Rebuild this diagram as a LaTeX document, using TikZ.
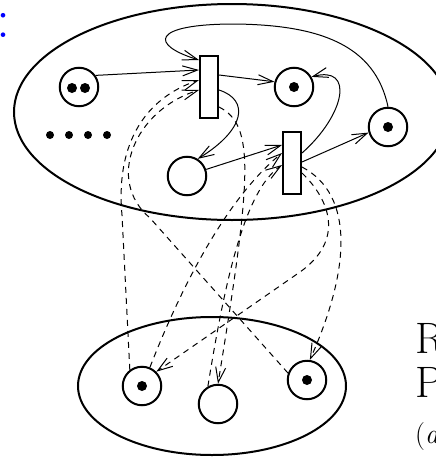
\documentclass[tikz,border=0pt]{standalone}
\usetikzlibrary{arrows.meta}
\begin{document}
\begin{tikzpicture}[x=1pt,y=-1pt,
  place/.style={circle,draw,line width=2pt,minimum size=38.5pt,inner sep=0pt},
  trans/.style={rectangle,draw,line width=2pt,minimum width=18pt,minimum height=62pt,inner sep=0pt},
  token/.style={circle,fill,inner sep=0pt,minimum size=10pt},
  region/.style={draw,line width=2pt},
  arc/.style={line width=1pt,-{Straight Barb[length=15pt,width=10pt,line width=1pt]}},
  darc/.style={arc,dash pattern=on 6pt off 5pt},
  big/.style={inner sep=0pt,anchor=base west,font=\fontsize{44}{44}\selectfont},
]
\useasboundingbox (0,0) rectangle (436,458);
\clip (0,0) rectangle (436,458);

% two regions
\draw[region] (232,112) ellipse [x radius=218pt, y radius=108pt];
\draw[region] (212,386) ellipse [x radius=134pt, y radius=69pt];

% upper net
\node[place] (p1) at (79,87) {};
\node[token] (p1a) at (72,88) {};
\node[token] (p1b) at (85,88) {};
\node[trans] (t1) at (209,87) {};
\node[place] (p2) at (294,87) {};
\node[token] (p2a) at (294,87) {};
\node[place] (p3) at (388,127) {};
\node[token] (p3a) at (388,127) {};
\node[trans] (t2) at (292,163) {};
\node[place] (p4) at (187,176) {};
\foreach \i/\x in {1/50,2/69,3/88,4/107}
  \node[token,minimum size=8pt] (dot\i) at (\x,135) {};

% lower net
\node[place] (q1) at (142,386) {};
\node[token] (q1a) at (142,386) {};
\node[place] (q2) at (218,404) {};
\node[place] (q3) at (307,380) {};
\node[token] (q3a) at (307,380) {};

% solid arcs
\draw[arc] (p1.35) -- ([yshift=17pt]t1.west);
\draw[arc] (p3.north) .. controls (375,45) and (320,25) .. (235,24)
  .. controls (150,24) and (150,45) .. ([yshift=27pt]t1.west);
\draw[arc] ([yshift=12pt]t1.east) -- (p2.165);
\draw[arc] ([yshift=-3pt]t1.east) .. controls (250,100) and (245,130) .. (p4.58);
\draw[arc] (p4.19) -- ([yshift=18pt]t2.west);
\draw[arc] ([yshift=1pt]t2.east) -- (p3.196);
\draw[arc] ([yshift=10pt]t2.east) .. controls (345,115) and (355,65) .. (p2.30);

% dashed arcs between the two nets
\draw[darc] (q1.127) -- (122,215) .. controls (116,150) and (140,100) .. ([yshift=7pt]t1.west);
\draw[darc] (q3.160) -- (150,218) .. controls (105,180) and (135,110) .. ([yshift=-3pt]t1.west);
\draw[darc] ([yshift=-20pt]t1.east) .. controls (255,125) and (252,175) .. (q2.north);
\draw[darc] (q2.120) .. controls (225,280) and (245,190) .. ([yshift=-2pt]t2.west);
\draw[darc] (q1.67) .. controls (180,290) and (225,200) .. ([yshift=10pt]t2.west);
\draw[darc] ([yshift=-10pt]t2.east) .. controls (330,200) and (345,240) .. (300,272) -- (q1.45);
\draw[darc] ([yshift=-4pt]t2.east) .. controls (355,195) and (350,270) .. (q3.82);

% labels
\node[inner sep=0pt,anchor=base,text=blue,font=\fontsize{56}{56}\selectfont] (colon) at (4,37) {:};
\node[big] (lblR) at (415.5,353) {R};
\node[big] (lblP) at (415.5,397) {P};
\node[inner sep=0pt,anchor=base west,font=\fontsize{28}{28}\selectfont] (lblA) at (415,443) {(\textit{a}};
\end{tikzpicture}
\end{document}
